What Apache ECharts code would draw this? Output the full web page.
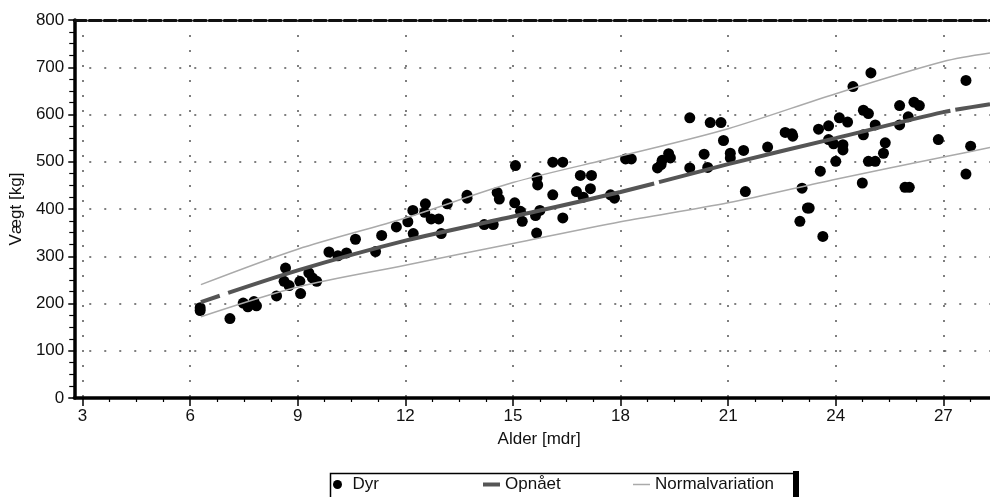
<!DOCTYPE html>
<html>
<head>
<meta charset="utf-8">
<script src="https://cdn.jsdelivr.net/npm/echarts@6.0.0/dist/echarts.min.js"></script>
<style>
  html, body { margin: 0; padding: 0; background: #fff; }
  #chart { width: 990px; height: 497px; }
</style>
</head>
<body>
<div id="chart"></div>
<script>
// alder (mdr) og vægt (kg) for hvert dyr
var dyrAge = [6.28, 6.28, 7.11, 7.48, 7.61, 7.78, 7.85, 8.41, 8.66, 8.62, 8.76, 9.08, 9.06, 9.31, 9.41, 9.53,
    9.87, 10.12, 10.36, 10.61, 11.17, 11.34, 11.75, 12.07, 12.21, 12.22, 12.56, 12.54, 12.72, 12.93, 13.0, 13.17,
    13.72, 13.72, 14.2, 14.45, 14.56, 14.62, 15.07, 15.05, 15.21, 15.26, 15.67, 15.69, 15.63, 15.75, 15.66,
    16.11, 16.11, 16.39, 16.39, 16.77, 16.88, 17.19, 17.16, 16.96, 17.72, 17.83, 18.14, 18.3,
    19.03, 19.13, 19.16, 19.34, 19.39, 19.93, 19.93, 20.33, 20.43, 20.5, 20.8, 20.87, 21.06, 21.06, 21.43, 21.48,
    22.1, 22.59, 22.78, 22.8, 23.06, 23.21, 23.26, 23.0, 23.64, 23.52, 23.57, 23.8, 23.8, 23.94,
    24.1, 24.2, 24.2, 24.33, 24.0, 24.48, 24.74, 24.77, 24.91, 24.77, 24.91, 25.1, 24.98, 25.1, 25.33, 25.38,
    25.78, 25.78, 25.93, 26.05, 26.02, 26.18, 26.33, 26.86, 27.63, 27.63, 27.76];
var dyrKg = [191, 185, 168, 201, 193, 204, 195, 216, 275, 247, 238, 221, 247, 265, 254, 247,
    309, 301, 307, 336, 310, 344, 362, 373, 397, 348, 411, 393, 379, 379, 348, 411,
    429, 423, 367, 367, 435, 421, 492, 413, 395, 374, 466, 451, 386, 397, 349,
    430, 499, 499, 381, 437, 471, 471, 443, 425, 430, 423, 506, 506,
    487, 494, 503, 517, 508, 593, 487, 516, 488, 583, 583, 545, 518, 508, 524, 437,
    531, 562, 559, 554, 444, 402, 402, 374, 342, 569, 480, 576, 547, 538,
    593, 536, 525, 584, 501, 659, 455, 609, 602, 557, 501, 501, 688, 578, 518, 540,
    619, 578, 446, 446, 595, 626, 619, 547, 672, 474, 533];

// kurverne: opnået vækst og normalvariation (øvre / nedre)
var curveAge = [6.3, 9, 12, 15, 18, 21, 24, 27, 28.3];
var opnaetKg = [203, 270, 333, 384, 436, 495, 550, 605, 622];
var upperKg = [240, 315, 381, 456, 512, 570, 644, 712, 730];
var lowerKg = [172, 235, 281, 327, 373, 413, 463, 510, 530];

// akser
var xTicks = [3, 6, 9, 12, 15, 18, 21, 24, 27];
var xMin = 2.77, xMax = 28.3;

var xMinor = [];
xTicks.forEach(function (t) {
    [0.75, 1.5, 2.25].forEach(function (d) {
        if (t + d < xMax) xMinor.push(t + d);
    });
});

function pairs(xs, ys) {
    return xs.map(function (x, i) { return [x, ys[i]]; });
}

var font = "'Liberation Sans', Arial, sans-serif";
var dotted = { type: [2, 13], color: '#555', width: 1.5 };
var legendText = { fontSize: 17, color: '#111', fontFamily: font };

var chart = echarts.init(document.getElementById('chart'));
chart.setOption({
    animation: false,
    backgroundColor: '#fff',
    textStyle: { fontFamily: font },
    grid: { left: 73, right: 0, top: 20, bottom: 99 },
    xAxis: [{
        type: 'value', min: xMin, max: xMax, position: 'bottom',
        name: 'Alder [mdr]', nameLocation: 'middle', nameGap: 33,
        nameTextStyle: { fontSize: 17, color: '#111', fontFamily: font, padding: [0, 0, 0, 14] },
        axisLine: { show: true, onZero: false, lineStyle: { color: '#000', width: 3.5 } },
        axisTick: { show: true, customValues: xTicks, length: 8, lineStyle: { color: '#000', width: 1.5 } },
        axisLabel: { customValues: xTicks, fontSize: 17, color: '#111', margin: 10, fontFamily: font },
        splitLine: { show: true, lineStyle: dotted }
    }, {
        type: 'value', min: xMin, max: xMax, position: 'bottom',
        axisLine: { show: false },
        axisTick: { show: true, customValues: xMinor, length: 4, lineStyle: { color: '#000', width: 1.2 } },
        axisLabel: { show: false },
        splitLine: { show: false }
    }, {
        type: 'value', min: xMin, max: xMax, position: 'top',
        axisLine: { show: true, onZero: false, lineStyle: { color: '#111', width: 3, type: [12, 3] } },
        axisTick: { show: false },
        axisLabel: { show: false },
        splitLine: { show: false }
    }],
    yAxis: {
        type: 'value', min: 0, max: 800, interval: 100,
        name: 'Vægt [kg]', nameLocation: 'middle', nameGap: 46, nameRotate: 90,
        nameTextStyle: { fontSize: 17, color: '#111', fontFamily: font },
        axisLine: { show: true, lineStyle: { color: '#000', width: 3.5 } },
        axisTick: { show: true, length: 6, lineStyle: { color: '#000', width: 1.5 } },
        minorTick: { show: true, splitNumber: 4, length: 5, lineStyle: { color: '#000', width: 1.2 } },
        axisLabel: { fontSize: 17, color: '#111', margin: 10, fontFamily: font },
        splitLine: { show: true, lineStyle: dotted }
    },
    legend: [{
        data: ['Dyr'], left: 333, top: 476, padding: 0,
        icon: 'circle', itemWidth: 20, itemHeight: 9,
        textStyle: legendText
    }, {
        data: ['Opnået'], left: 483, top: 476, padding: 0,
        icon: 'rect', itemWidth: 17, itemHeight: 4,
        textStyle: legendText
    }, {
        data: ['Normalvariation'], left: 633, top: 476, padding: 0,
        icon: 'rect', itemWidth: 17, itemHeight: 1.5,
        textStyle: legendText
    }],
    graphic: [{
        type: 'rect', left: 328, top: 471, silent: true,
        shape: { width: 466, height: 40 },
        style: { fill: 'none', stroke: '#000', lineWidth: 1.5 }
    }, {
        type: 'rect', left: 793, top: 471, silent: true,
        shape: { width: 6, height: 40 },
        style: { fill: '#000' }
    }],
    series: [{
        name: 'Normalvariation', type: 'line', symbol: 'none', smooth: 0.3,
        data: pairs(curveAge, upperKg),
        lineStyle: { color: '#aaa', width: 1.5 }, itemStyle: { color: '#aaa' }
    }, {
        name: 'Normalvariation', type: 'line', symbol: 'none', smooth: 0.3,
        data: pairs(curveAge, lowerKg),
        lineStyle: { color: '#aaa', width: 1.5 }, itemStyle: { color: '#aaa' }
    }, {
        name: 'Opnået', type: 'line', symbol: 'none', smooth: 0.3,
        data: pairs(curveAge, opnaetKg),
        lineStyle: { color: '#555', width: 4, type: [20, 9, 440, 5, 300, 5, 2000, 1] },
        itemStyle: { color: '#555' }
    }, {
        name: 'Dyr', type: 'scatter', symbol: 'circle', symbolSize: 11,
        data: pairs(dyrAge, dyrKg),
        itemStyle: { color: '#000', opacity: 1 }
    }]
});
</script>
</body>
</html>
